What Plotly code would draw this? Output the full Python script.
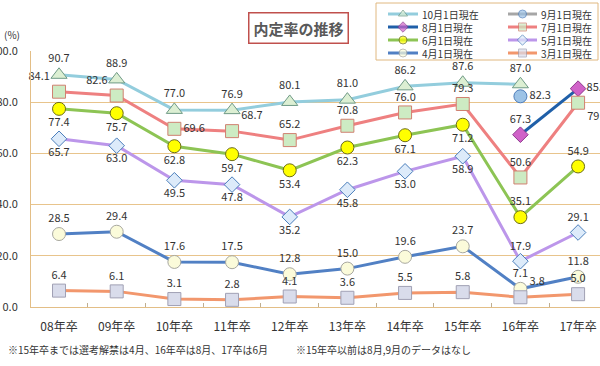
import plotly.graph_objects as go

categories = ["08年卒", "09年卒", "10年卒", "11年卒", "12年卒", "13年卒", "14年卒", "15年卒", "16年卒", "17年卒"]

oct1 = [90.7, 88.9, 77.0, 76.9, 80.1, 81.0, 86.2, 87.6, 87.0, None]
sep1 = [None, None, None, None, None, None, None, None, 82.3, None]
aug1 = [None, None, None, None, None, None, None, None, 67.3, 85.3]
jul1 = [84.1, 82.6, 69.6, 68.7, 65.2, 70.8, 76.0, 79.3, 50.6, 79.8]
jun1 = [77.4, 75.7, 62.8, 59.7, 53.4, 62.3, 67.1, 71.2, 35.1, 54.9]
may1 = [65.7, 63.0, 49.5, 47.8, 35.2, 45.8, 53.0, 58.9, 17.9, 29.1]
apr1 = [28.5, 29.4, 17.6, 17.5, 12.8, 15.0, 19.6, 23.7, 7.1, 11.8]
mar1 = [6.4, 6.1, 3.1, 2.8, 4.1, 3.6, 5.5, 5.8, 3.8, 5.0]

y_ticks = [0, 20, 40, 60, 80, 100]

FONT = "Noto Sans CJK JP"
TXT = "#333333"
TAN = "#E8C48C"

W, H = 600, 366
ML, MR, MT, MB = 31, 0, 2, 59
PW, PH = W - ML - MR, H - MT - MB  # plotting region in px


def px_x(px):
    return (px - ML) / PW


def px_y(py):
    return (H - MB - py) / PH


def lbl(vals):
    return ["" if v is None else f"{v:.1f}" for v in vals]


series = [
    dict(name="10月1日現在", y=oct1, line="#93CDDD", sym="triangle-up", size=14, fill="#DCEFD3", edge="#6F9A86",
         pos=["top center"] * 10),
    dict(name="9月1日現在", y=sep1, line="#A6A6A6", sym="circle", size=13, fill="#9DC3E6", edge="#4F7EBB",
         pos=["middle right"] * 10),
    dict(name="8月1日現在", y=aug1, line="#1F5FA8", sym="diamond", size=12, fill="#D062C8", edge="#8E3A8E",
         pos=["top center"] * 9 + ["middle right"]),
    dict(name="7月1日現在", y=jul1, line="#EE8080", sym="square", size=13, fill="#CDEBC3", edge="#D08070",
         pos=["top left", "top left", "middle right", "top right", "top center", "top center", "top center",
              "top center", "top center", "bottom right"]),
    dict(name="6月1日現在", y=jun1, line="#8DC454", sym="circle", size=13, fill="#FFFF00", edge="#6B6B1A",
         pos=["bottom center"] * 8 + ["top center", "top center"]),
    dict(name="5月1日現在", y=may1, line="#BC96EA", sym="diamond", size=12, fill="#DDEBFA", edge="#4A7EBB",
         pos=["bottom center"] * 8 + ["top center", "top center"]),
    dict(name="4月1日現在", y=apr1, line="#5180C4", sym="circle", size=13, fill="#FBFBDA", edge="#A8A8A0",
         pos=["top center"] * 10),
    dict(name="3月1日現在", y=mar1, line="#F2976D", sym="square", size=13, fill="#D9DCEB", edge="#A0A0B4",
         pos=["top center"] * 8 + ["top right", "top center"]),
]

fig = go.Figure()
for s in series:
    fig.add_trace(go.Scatter(
        x=categories, y=s["y"], name=s["name"], mode="lines+markers+text",
        line=dict(color=s["line"], width=3),
        marker=dict(symbol=s["sym"], size=s["size"], color=s["fill"], line=dict(color=s["edge"], width=1)),
        text=lbl(s["y"]), textposition=s["pos"],
        textfont=dict(family=FONT, size=11, color=TXT),
        connectgaps=False, cliponaxis=False, showlegend=False,
        xaxis="x", yaxis="y",
    ))

# ---- hand-made legend box (2 columns x 4 rows), drawn on a helper pixel axis ----
LEG_X0, LEG_X1, LEG_Y0, LEG_Y1 = 376, 598, 3, 60
AX2_X0, AX2_X1, AX2_Y0, AX2_Y1 = 375, 599, 2, 61
col_line = [(388, 418), (508, 537)]
col_text = [420, 539]
ROW0, ROW_STEP = 14, 13
annotations = []
for i, s in enumerate(series):
    c, r = i % 2, i // 2
    x0, x1 = col_line[c]
    yy = ROW0 + r * ROW_STEP
    fig.add_trace(go.Scatter(
        x=[x0, (x0 + x1) / 2, x1], y=[yy, yy, yy], mode="lines+markers",
        line=dict(color=s["line"], width=3),
        marker=dict(symbol=s["sym"], size=[0, 8, 0], color=s["fill"], line=dict(color=s["edge"], width=1)),
        showlegend=False, hoverinfo="skip", xaxis="x2", yaxis="y2",
    ))
for c in range(2):
    names = [s["name"] for i, s in enumerate(series) if i % 2 == c]
    annotations.append(dict(text="<br>".join(names), x=col_text[c], y=ROW0 + 1.5 * ROW_STEP,
                            xref="x2", yref="y2", xanchor="left", yanchor="middle", align="left",
                            showarrow=False, font=dict(family=FONT, size=10, color=TXT)))

shapes = [dict(type="rect", xref="x2", yref="y2", x0=LEG_X0, x1=LEG_X1, y0=LEG_Y0, y1=LEG_Y1,
               line=dict(color="#E0B880", width=1), fillcolor="white", layer="below")]

annotations += [
    dict(text="<b>内定率の推移</b>", x=px_x(298), y=px_y(28), xref="paper", yref="paper",
         xanchor="center", yanchor="middle",
         showarrow=False, font=dict(family=FONT, size=15, color="#595959"),
         bordercolor="#C0504D", borderwidth=1.5, borderpad=4, bgcolor="white"),
    dict(text="(%)", x=px_x(2), y=px_y(35), xref="paper", yref="paper", xanchor="left", yanchor="middle",
         showarrow=False, font=dict(family=FONT, size=10, color=TXT)),
    dict(text="※15年卒までは選考解禁は4月、16年卒は8月、17卒は6月",
         x=px_x(6), y=px_y(349), xref="paper", yref="paper", xanchor="left", yanchor="middle",
         showarrow=False, font=dict(family=FONT, size=10, color=TXT)),
    dict(text="※15年卒以前は8月,9月のデータはなし",
         x=px_x(294), y=px_y(349), xref="paper", yref="paper", xanchor="left", yanchor="middle",
         showarrow=False, font=dict(family=FONT, size=10, color=TXT)),
]

fig.update_layout(
    width=W, height=H,
    margin=dict(l=ML, r=MR, t=MT, b=MB),
    paper_bgcolor="white", plot_bgcolor="white",
    font=dict(family=FONT, size=11, color=TXT),
    showlegend=False,
    xaxis=dict(
        type="category", range=[-0.486, 9.38], domain=[0, 1], anchor="y",
        showgrid=False, showline=True, linecolor="#E3BE86", linewidth=1,
        ticks="inside", tickson="boundaries", ticklen=4, tickcolor="#BFAE90",
        tickfont=dict(family=FONT, size=12, color=TXT),
        ticklabelstandoff=9, automargin=False,
    ),
    yaxis=dict(
        range=[0, 100], domain=[0, px_y(51)], anchor="x",
        tickvals=y_ticks, tickformat=".1f",
        showgrid=True, gridcolor=TAN, gridwidth=1,
        showline=True, linecolor="#E3BE86", linewidth=1,
        zeroline=False, ticks="",
        tickfont=dict(family=FONT, size=11, color=TXT),
        ticklabelstandoff=10, automargin=False,
    ),
    xaxis2=dict(domain=[px_x(AX2_X0), px_x(AX2_X1)], range=[AX2_X0, AX2_X1],
                visible=False, anchor="y2", fixedrange=True),
    yaxis2=dict(domain=[px_y(AX2_Y1), px_y(AX2_Y0)], range=[AX2_Y1, AX2_Y0],
                visible=False, anchor="x2", fixedrange=True),
    shapes=shapes,
    annotations=annotations,
)

fig.write_html(
    "out.html",
    config={"displayModeBar": False},
    post_script="document.body.style.margin='0';document.body.style.overflow='hidden';",
)
